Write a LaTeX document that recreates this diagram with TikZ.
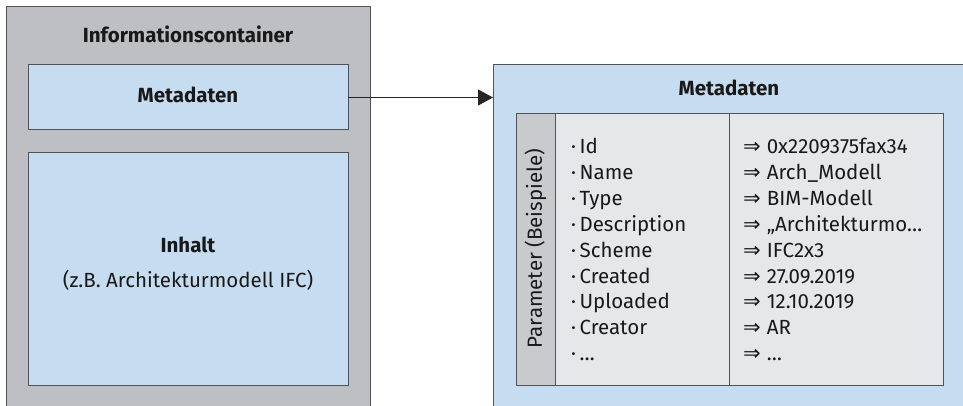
\documentclass[tikz,border=0pt]{standalone}
\usepackage{fontspec}
\setmainfont{Fira Sans}
\newfontfamily\symfont{DejaVu Sans}
\usetikzlibrary{arrows.meta}
\definecolor{cgray}{HTML}{BEBFC3}
\definecolor{cblue}{HTML}{C6DDF1}
\definecolor{ctab}{HTML}{E6E7E9}
\definecolor{cpar}{HTML}{C9CACC}
\definecolor{cline}{HTML}{505256}
\begin{document}
\begin{tikzpicture}[x=1pt,y=-1pt,
  box/.style={draw=cline,line width=1pt,inner sep=0pt,outer sep=0pt,anchor=north west},
  txt/.style={font=\fontsize{20.5}{24}\selectfont,inner sep=0pt,text=black!90},
  btxt/.style={font=\fontsize{20.5}{24}\selectfont\bfseries,inner sep=0pt,text=black!90},
  conn/.style={line width=1.3pt,draw=black!85,-{Triangle[length=15pt,width=16pt]}}]
\useasboundingbox (0,0) rectangle (963,406);
\clip (0,0) rectangle (963,406);
% left container
\node[box,fill=cgray,minimum width=364pt,minimum height=430pt] (cont) at (6,7) {};
\node[btxt,anchor=base] (conttitle) at (188,43) {Informationscontainer};
\node[box,fill=cblue,minimum width=320pt,minimum height=65pt] (meta1) at (28,65) {};
\node[btxt,anchor=base] (meta1t) at (188,103) {Metadaten};
\node[box,fill=cblue,minimum width=320pt,minimum height=232pt] (inhalt) at (28,153) {};
\node[btxt,anchor=base] (inhaltt) at (188,252) {Inhalt};
\node[txt,anchor=base] (inhalts) at (188,287) {(z.B. Architekturmodell IFC)};
% right box
\node[box,fill=cblue,minimum width=500pt,minimum height=360pt] (meta2) at (493,65) {};
\node[btxt,anchor=base] (meta2t) at (729,96) {Metadaten};
\node[box,fill=ctab,minimum width=427pt,minimum height=271pt] (tab) at (516,114) {};
\node[box,fill=cpar,minimum width=39pt,minimum height=271pt] (par) at (516,114) {};
\coordinate (div) at (729,114);
\draw[draw=cline,line width=1pt] (div) -- (div |- tab.south);
\node[txt,rotate=90] (ptxt) at ([yshift=1pt]par.center) {Parameter (Beispiele)};
\foreach \k/\v [count=\i from 0] in {Id/0x2209375fax34,Name/Arch\_Modell,Type/BIM-Modell,Description/„Architekturmo…,Scheme/IFC2x3,Created/27.09.2019,Uploaded/12.10.2019,Creator/AR,…/…}{
  \node[txt,anchor=base west] (k\i) at (571,{154+25.8*\i}) {·\hspace{3.5pt}\k};
  \node[txt,anchor=base west] (v\i) at (743,{154+25.8*\i}) {{\symfont\fontsize{21}{24}\selectfont ⇒}\hspace{6pt}\v};
}
% connector
\draw[conn] (meta1.east) -- (meta2.west |- meta1.east);
\end{tikzpicture}
\end{document}
